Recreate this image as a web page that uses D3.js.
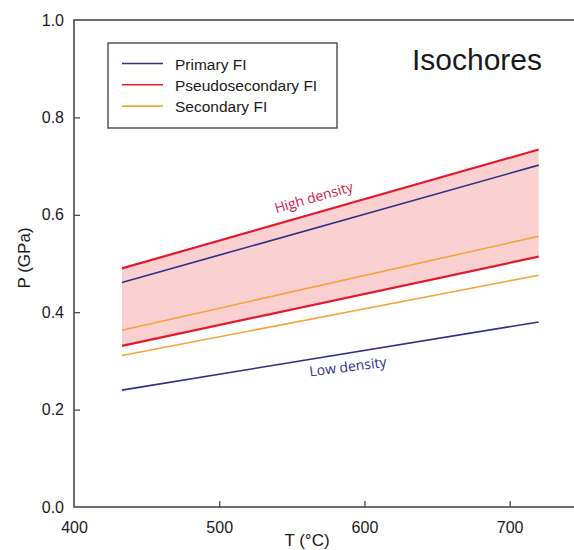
<!DOCTYPE html>
<html>
<head>
<meta charset="utf-8">
<script src="https://cdn.jsdelivr.net/npm/d3@7"></script>
<style>
  body { margin: 0; background: #fff; }
  svg text { font-family: Arial, "Liberation Sans", sans-serif; }
</style>
</head>
<body>
<svg id="chart" width="574" height="550"></svg>
<script>
// data: isochores, start and end temperature
var temps = [433, 720];
var primaryHigh = [0.461, 0.702];
var primaryLow = [0.240, 0.380];
var pseudoHigh = [0.490, 0.734];
var pseudoLow = [0.331, 0.514];
var secondaryHigh = [0.363, 0.556];
var secondaryLow = [0.311, 0.476];

var legendNames = ["Primary FI", "Pseudosecondary FI", "Secondary FI"];
var xTicks = [400, 500, 600, 700];
var yTicks = [0.0, 0.2, 0.4, 0.6, 0.8, 1.0];

var blue = "#2e2f86", red = "#e3182d", orange = "#f5a43a";

var svg = d3.select("#chart");
var plotLeft = 74, plotTop = 20, plotBottom = 507, plotRight = 574;

var x = d3.scaleLinear().domain([400, 745]).range([plotLeft, plotRight + 1]);
var y = d3.scaleLinear().domain([0, 1]).range([plotBottom, plotTop]);

//pink band between the two pseudosecondary lines
var band = temps.map(function(t, i) { return {t: t, lo: pseudoLow[i], hi: pseudoHigh[i]}; });
svg.append("path")
  .datum(band)
  .attr("fill", "#fbd0d0")
  .attr("d", d3.area().x(function(d) { return x(d.t); })
    .y0(function(d) { return y(d.lo); })
    .y1(function(d) { return y(d.hi); }));

//isochore lines
var lines = [
  {v: secondaryHigh, c: orange, w: 1.6},
  {v: secondaryLow, c: orange, w: 1.6},
  {v: primaryHigh, c: blue, w: 1.6},
  {v: primaryLow, c: blue, w: 1.6},
  {v: pseudoHigh, c: red, w: 2.2},
  {v: pseudoLow, c: red, w: 2.2}
];
var lineGen = d3.line().x(function(d) { return x(d[0]); }).y(function(d) { return y(d[1]); });
lines.forEach(function(l) {
  svg.append("path")
    .datum(d3.zip(temps, l.v))
    .attr("fill", "none")
    .attr("stroke", l.c)
    .attr("stroke-width", l.w)
    .attr("d", lineGen);
});

//density labels, rotated along the nearest line
function slopeAngle(v) {
  var dx = x(temps[1]) - x(temps[0]);
  var dy = y(v[1]) - y(v[0]);
  return Math.atan2(dy, dx) * 180 / Math.PI;
}
var labels = [
  {text: "High density", t: 566, p: 0.626, c: "#d2204f", a: slopeAngle(pseudoHigh)},
  {text: "Low density", t: 589, p: 0.278, c: "#2e2f86", a: slopeAngle(primaryLow) + 2}
];
labels.forEach(function(l) {
  svg.append("text")
    .attr("transform", "translate(" + x(l.t) + "," + y(l.p) + ") rotate(" + l.a + ")")
    .attr("text-anchor", "middle")
    .attr("fill", l.c)
    .style("font-family", "'Open Sans', sans-serif")
    .style("font-size", "14px")
    .text(l.text);
});

//frame
svg.append("rect")
  .attr("x", plotLeft).attr("y", plotTop)
  .attr("width", plotRight - plotLeft + 10).attr("height", plotBottom - plotTop)
  .attr("fill", "none").attr("stroke", "#4a4a4a").attr("stroke-width", 1.6);

//axes with inward ticks
var xAxis = svg.append("g").attr("transform", "translate(0," + plotBottom + ")")
  .call(d3.axisBottom(x).tickValues(xTicks).tickSize(-6).tickPadding(15));
var yAxis = svg.append("g").attr("transform", "translate(" + plotLeft + ",0)")
  .call(d3.axisLeft(y).tickValues(yTicks).tickFormat(d3.format(".1f")).tickSize(-6).tickPadding(10));
[xAxis, yAxis].forEach(function(g) {
  g.select(".domain").remove();
  g.selectAll("line").attr("stroke", "#4a4a4a").attr("stroke-width", 1.3);
  g.selectAll("text").attr("fill", "#1a1a1a").style("font-size", "16px")
    .style("font-family", "Arial, 'Liberation Sans', sans-serif");
});
yAxis.selectAll(".tick").filter(function(d) { return d === 0 || d === 1; }).select("line").remove();
xAxis.selectAll(".tick").filter(function(d) { return d === 400; }).select("line").remove();

//axis titles
svg.append("text")
  .attr("x", 307).attr("y", 546)
  .attr("text-anchor", "middle")
  .attr("fill", "#1a1a1a")
  .style("font-size", "17px")
  .text("T (°C)");
svg.append("text")
  .attr("transform", "translate(30,258) rotate(-90)")
  .attr("text-anchor", "middle")
  .attr("fill", "#1a1a1a")
  .style("font-size", "17px")
  .text("P (GPa)");

//title
svg.append("text")
  .attr("x", 477).attr("y", 70)
  .attr("text-anchor", "middle")
  .attr("fill", "#1a1a1a")
  .style("font-size", "30px")
  .text("Isochores");

//legend
var legend = svg.append("g");
legend.append("rect")
  .attr("x", 108).attr("y", 43).attr("width", 229).attr("height", 85)
  .attr("fill", "#fff").attr("stroke", "#4a4a4a").attr("stroke-width", 1.4);
var legendColors = [blue, red, orange];
legendNames.forEach(function(name, i) {
  var ly = 63.5 + i * 21.3;
  legend.append("line")
    .attr("x1", 122).attr("x2", 163).attr("y1", ly).attr("y2", ly)
    .attr("stroke", legendColors[i]).attr("stroke-width", 1.6);
  legend.append("text")
    .attr("x", 175).attr("y", ly + 6)
    .attr("fill", "#1a1a1a")
    .style("font-size", "15.5px")
    .text(name);
});
</script>
</body>
</html>
